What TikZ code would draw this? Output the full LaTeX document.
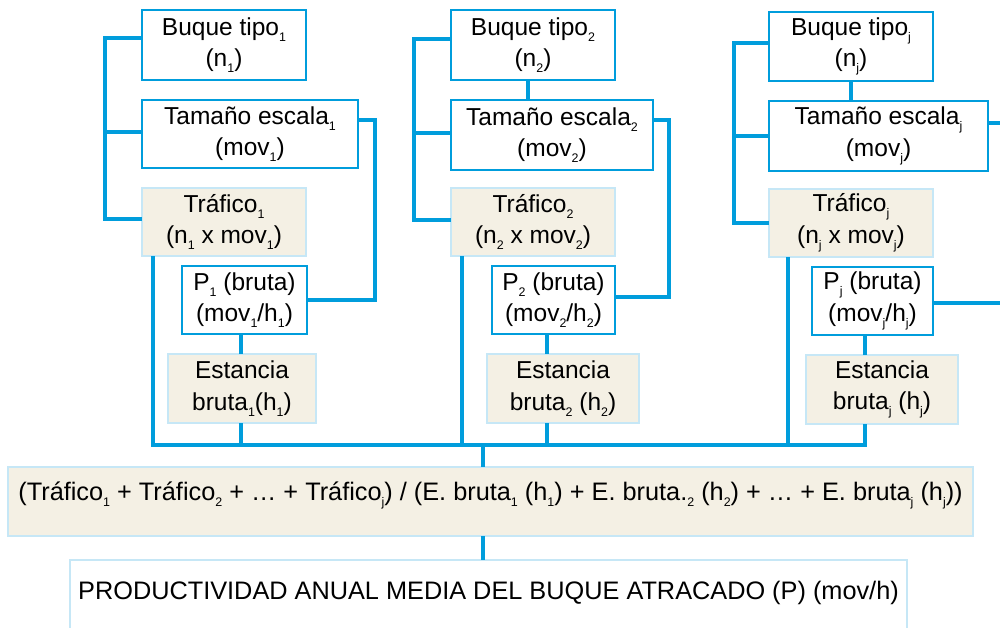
\documentclass[tikz,border=0pt]{standalone}
\usepackage{fontspec}
\setmainfont{Liberation Sans}
\usetikzlibrary{calc}
\definecolor{lineblue}{RGB}{0,157,220}
\definecolor{paleblue}{RGB}{198,231,246}
\definecolor{beige}{RGB}{244,240,228}
\newcommand{\ssub}[1]{\raisebox{-6bp}{\fontsize{12.5}{12.5}\selectfont #1}}
\begin{document}
\begin{tikzpicture}[x=1bp,y=-1bp,
  mainfs/.style={font=\fontsize{24.6}{31.6}\selectfont},
  bigfs/.style={font=\fontsize{25.4}{31.6}\selectfont},
  wbox/.style={draw=lineblue, line width=2bp, fill=white, rectangle, inner sep=0pt, outer sep=0pt, align=center, mainfs},
  bbox/.style={draw=paleblue, line width=2bp, fill=beige, rectangle, inner sep=0pt, outer sep=0pt, align=center, mainfs},
  conn/.style={draw=lineblue, line width=3.5bp}]
\useasboundingbox (0,0) rectangle (1000,628);
\clip (0,0) rectangle (1000,628);
\fill[white] (0,0) rectangle (1000,628);

% column 1
\node[wbox, minimum width=164bp, minimum height=70bp] (b1) at (224,45) {Buque tipo\ssub{1}\\(n\ssub{1})};
\node[wbox, minimum width=216bp, minimum height=68bp] (t1) at (250,134) {Tamaño escala\ssub{1}\\(mov\ssub{1})};
\node[bbox, minimum width=164bp, minimum height=68bp] (f1) at (224,222) {Tráfico\ssub{1}\\(n\ssub{1} x mov\ssub{1})};
\node[wbox, minimum width=125bp, minimum height=68bp] (p1) at (244.5,300) {P\ssub{1} (bruta)\\(mov\ssub{1}/h\ssub{1})};
\node[bbox, minimum width=148bp, minimum height=69bp] (e1) at (242,388.5) {Estancia\\bruta\ssub{1}(h\ssub{1})};

% column 2
\node[wbox, minimum width=164bp, minimum height=70bp] (b2) at (533,45) {Buque tipo\ssub{2}\\(n\ssub{2})};
\node[wbox, minimum width=202bp, minimum height=70bp] (t2) at (552,135) {Tamaño escala\ssub{2}\\(mov\ssub{2})};
\node[bbox, minimum width=164bp, minimum height=68bp] (f2) at (533,222) {Tráfico\ssub{2}\\(n\ssub{2} x mov\ssub{2})};
\node[wbox, minimum width=123bp, minimum height=68bp] (p2) at (553.5,300) {P\ssub{2} (bruta)\\(mov\ssub{2}/h\ssub{2})};
\node[bbox, minimum width=152bp, minimum height=69bp] (e2) at (563,388.5) {Estancia\\bruta\ssub{2} (h\ssub{2})};

% column j
\node[wbox, minimum width=164bp, minimum height=69bp] (bj) at (851,46.5) {Buque tipo\ssub{j}\\(n\ssub{j})};
\node[wbox, minimum width=219bp, minimum height=70bp] (tj) at (878.5,136) {Tamaño escala\ssub{j}\\(mov\ssub{j})};
\node[bbox, minimum width=164bp, minimum height=68bp] (fj) at (851,223) {Tráfico\ssub{j}\\(n\ssub{j} x mov\ssub{j})};
\node[wbox, minimum width=121bp, minimum height=68bp] (pj) at (872.5,301) {P\ssub{j} (bruta)\\(mov\ssub{j}/h\ssub{j})};
\node[bbox, minimum width=152bp, minimum height=69bp] (ej) at (882,389.5) {Estancia\\bruta\ssub{j} (h\ssub{j})};

% formula and result
\node[bbox, bigfs, anchor=north, minimum width=965bp, text height=33bp, text depth=36bp] (form) at (490.5,467)
  {(Tráfico\ssub{1} + Tráfico\ssub{2} + … + Tráfico\ssub{j}) / (E. bruta\ssub{1} (h\ssub{1}) + E. bruta.\ssub{2} (h\ssub{2}) + … + E. bruta\ssub{j} (h\ssub{j}))};
\node[draw=paleblue, line width=2bp, fill=white, anchor=north, minimum width=837bp, text height=39bp, text depth=61bp, inner sep=0pt, outer sep=0pt, bigfs] (res) at (488.5,560)
  {PRODUCTIVIDAD ANUAL MEDIA DEL BUQUE ATRACADO (P) (mov/h)};

\coordinate (bus) at (483,445);

% brackets
\draw[conn] ([yshift=7bp]b1.west) -- ++(-37,0) |- ([yshift=3bp]f1.west);
\draw[conn] ([yshift=2bp]t1.west) -- ++(-37,0);
\draw[conn] ([yshift=6bp]b2.west) -- ++(-37,0) |- ([yshift=2bp]f2.west);
\draw[conn] ([yshift=2bp]t2.west) -- ++(-37,0);
\draw[conn] ([yshift=3.5bp]bj.west) -- ++(-35,0) |- (fj.west);
\draw[conn] (tj.west) -- ++(-35,0);

% buque -> tamano
\coordinate (u2) at ([xshift=-5bp]b2.south);
\draw[conn] (u2) -- (u2 |- t2.north);
\draw[conn] (bj.south) -- (bj.south |- tj.north);

% tamano -> P
\draw[conn] ([yshift=14bp]t1.east) -- ++(17,0) |- (p1.east);
\draw[conn] ([yshift=15bp]t2.east) -- ++(16,0) |- ([yshift=3bp]p2.east);
\draw[conn] ([yshift=13bp]tj.east) -- ++(30,0);
\draw[conn] ([yshift=-2bp]pj.east) -- ++(80,0);

% P -> Estancia -> bus
\coordinate (q1) at ([xshift=-3.5bp]p1.south);
\coordinate (q2) at ([xshift=-6.5bp]p2.south);
\coordinate (qj) at ([xshift=-7.5bp]pj.south);
\draw[conn] (q1) -- (q1 |- e1.north);
\draw[conn] (q2) -- (q2 |- e2.north);
\draw[conn] (qj) -- (qj |- ej.north);
\draw[conn] (q1 |- e1.south) -- (q1 |- bus);
\draw[conn] (q2 |- e2.south) -- (q2 |- bus);
\draw[conn] (qj |- ej.south) -- (qj |- bus);

% trafico -> bus
\coordinate (k1) at ([xshift=11bp]f1.south west);
\coordinate (k2) at ([xshift=11bp]f2.south west);
\coordinate (kj) at ([xshift=19bp]fj.south west);
\draw[conn] (k1) -- (k1 |- bus);
\draw[conn] (k2) -- (k2 |- bus);
\draw[conn] (kj) -- (kj |- bus);

% bus
\draw[conn] ([xshift=-1.75bp]k1 |- bus) -- ([xshift=1.75bp]qj |- bus);
\draw[conn] (bus) -- (bus |- form.north);
\draw[conn] (bus |- form.south) -- (bus |- res.north);
\end{tikzpicture}
\end{document}
